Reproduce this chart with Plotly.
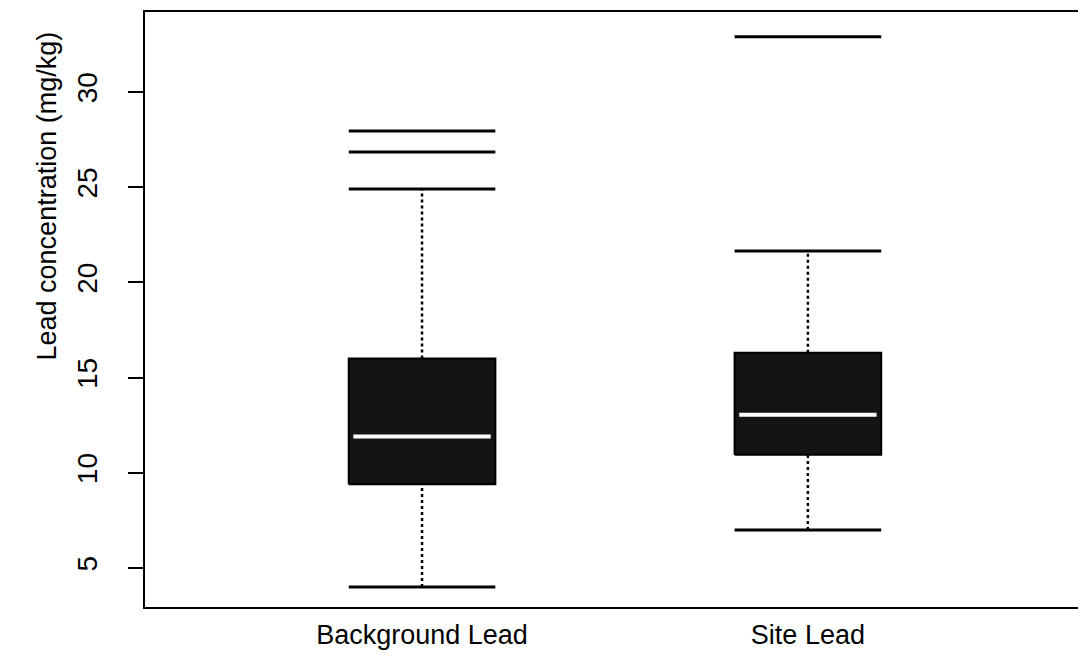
import plotly.graph_objects as go

categories = ["Background Lead", "Site Lead"]
q1 = [9.4, 10.95]
median = [11.9, 13.05]
q3 = [16.0, 16.3]
lower_whisker = [4.0, 7.0]
upper_whisker = [24.9, 21.65]
outliers = [[26.85, 27.95], [32.9]]

y_ticks = [5, 10, 15, 20, 25, 30]

FONT = "Liberation Sans, Arial, Helvetica, sans-serif"
half = 0.19

fig = go.Figure()
for i, cat in enumerate(categories):
    c = i + 1
    # whiskers (dotted)
    fig.add_trace(go.Scatter(x=[c, c], y=[q3[i], upper_whisker[i]], mode="lines",
                             line=dict(color="black", width=2.5, dash="dot"), hoverinfo="skip"))
    fig.add_trace(go.Scatter(x=[c, c], y=[lower_whisker[i], q1[i]], mode="lines",
                             line=dict(color="black", width=2.5, dash="dot"), hoverinfo="skip"))
    # box
    fig.add_trace(go.Scatter(x=[c - half, c + half, c + half, c - half, c - half],
                             y=[q1[i], q1[i], q3[i], q3[i], q1[i]],
                             mode="lines", fill="toself", fillcolor="#141414",
                             line=dict(color="black", width=2), hoverinfo="skip"))
    # median
    fig.add_trace(go.Scatter(x=[c - half + 0.012, c + half - 0.012], y=[median[i], median[i]],
                             mode="lines", line=dict(color="white", width=4), hoverinfo="skip"))
    # caps
    for v in (lower_whisker[i], upper_whisker[i]):
        fig.add_trace(go.Scatter(x=[c - half, c + half], y=[v, v], mode="lines",
                                 line=dict(color="black", width=3), hoverinfo="skip"))
    # outliers drawn as horizontal segments
    for v in outliers[i]:
        fig.add_trace(go.Scatter(x=[c - half, c + half], y=[v, v], mode="lines",
                                 line=dict(color="black", width=3), hoverinfo="skip"))

fig.update_layout(
    width=1078, height=655,
    margin=dict(l=145, r=0, t=12, b=48),
    paper_bgcolor="white", plot_bgcolor="white",
    showlegend=False,
    font=dict(family=FONT, size=27, color="black"),
    xaxis=dict(range=[0.282, 2.70], tickvals=[1, 2], ticktext=categories,
               showgrid=False, zeroline=False, showline=True, mirror=True,
               linecolor="black", linewidth=2, ticks="", ticklabelstandoff=3,
               automargin=False, tickfont=dict(size=27)),
    yaxis=dict(range=[2.95, 34.2], tickvals=y_ticks, ticktext=[str(t) for t in y_ticks],
               showgrid=False, zeroline=False, showline=True, mirror=False,
               linecolor="black", linewidth=2, ticks="outside", ticklen=15, tickwidth=2,
               tickcolor="black", tickangle=-90, ticklabelstandoff=20,
               automargin=False, tickfont=dict(size=28)),
    annotations=[dict(text="Lead concentration (mg/kg)", xref="paper", yref="paper",
                      x=-0.105, y=0.69, xanchor="center", yanchor="middle",
                      textangle=-90, showarrow=False, font=dict(size=27))],
)

fig.write_html("out.html", config={"displayModeBar": False},
               post_script="document.body.style.margin='0';document.body.style.overflow='hidden';")
